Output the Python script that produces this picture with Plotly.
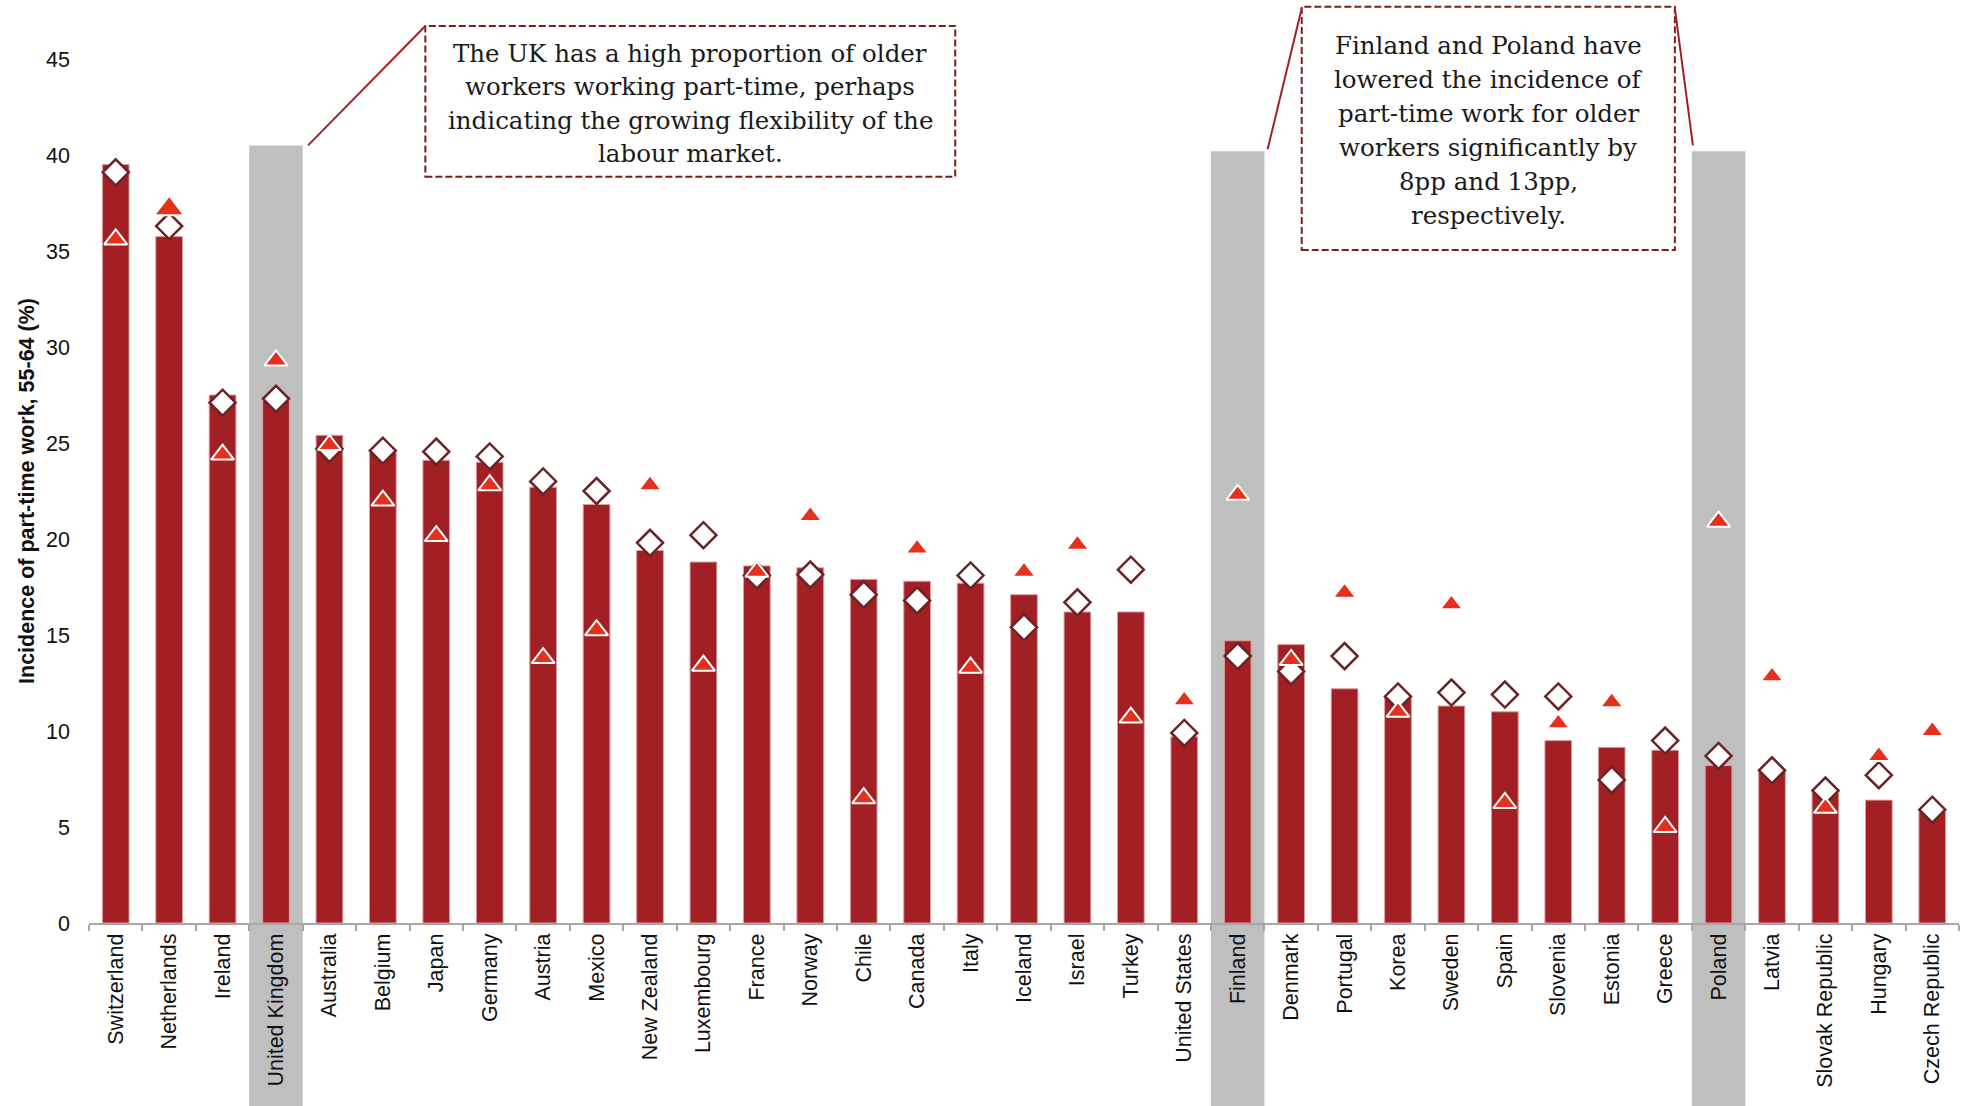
import plotly.graph_objects as go

# ---------------- data ----------------
countries = ["Switzerland", "Netherlands", "Ireland", "United Kingdom", "Australia",
             "Belgium", "Japan", "Germany", "Austria", "Mexico", "New Zealand",
             "Luxembourg", "France", "Norway", "Chile", "Canada", "Italy", "Iceland",
             "Israel", "Turkey", "United States", "Finland", "Denmark", "Portugal",
             "Korea", "Sweden", "Spain", "Slovenia", "Estonia", "Greece", "Poland",
             "Latvia", "Slovak Republic", "Hungary", "Czech Republic"]

bar_values = [39.5, 35.75, 27.5, 27.2, 25.4, 24.5, 24.1, 24.0, 22.7, 21.8, 19.4,
              18.8, 18.6, 18.5, 17.9, 17.8, 17.7, 17.1, 16.2, 16.2, 9.7, 14.7, 14.5,
              12.2, 11.8, 11.3, 11.0, 9.5, 9.15, 9.0, 8.2, 7.95, 6.9, 6.4, 5.8]

diamond_values = [39.1, 36.3, 27.1, 27.3, 24.7, 24.6, 24.55, 24.3, 23.0, 22.5, 19.8,
                  20.2, 18.1, 18.15, 17.1, 16.8, 18.1, 15.4, 16.7, 18.4, 9.9, 13.9,
                  13.1, 13.9, 11.8, 12.0, 11.9, 11.8, 7.45, 9.5, 8.7, 7.95, 6.9, 7.7, 5.9]

triangle_values = [35.6, 37.2, 24.4, 29.3, 24.9, 22.0, 20.15, 22.8, 13.8, 15.25, 22.8,
                   13.4, 18.3, 21.2, 6.5, 19.5, 13.3, 18.3, 19.7, 10.7, 11.6, 22.3,
                   13.7, 17.2, 11.0, 16.6, 6.25, 10.4, 11.5, 5.0, 20.9, 12.85, 6.0, 8.7, 10.0]

highlight_countries = ["United Kingdom", "Finland", "Poland"]
highlight_tops = [40.5, 40.2, 40.2]

y_ticks = [0, 5, 10, 15, 20, 25, 30, 35, 40, 45]
y_range = [0, 45]

note_uk = ["The UK has a high proportion of older",
           "workers working part-time, perhaps",
           "indicating the growing flexibility of the",
           "labour market."]
note_fp = ["Finland and Poland have",
           "lowered the incidence of",
           "part-time work for older",
           "workers significantly by",
           "8pp and 13pp,",
           "respectively."]

# ---------------- layout constants ----------------
W, H = 1966, 1106
ML, MR, MT, MB = 88.6, 7, 59, 183.2
N = len(countries)
PLOT_W = W - ML - MR
PLOT_H = H - MT - MB
CAT_W = PLOT_W / N


def px_to_idx(px):
    """pixel x -> category index units"""
    return (px - ML) / CAT_W - 0.5


def px_to_paper_y(py):
    """pixel y -> paper y"""
    return (H - MB - py) / PLOT_H


def val_to_paper_y(v):
    return (v - y_range[0]) / (y_range[1] - y_range[0])


BAR_RED = "#A21F23"
TRI_RED = "#E4301C"
DIA_LINE = "#6B2326"
GREY = "#BFBFBF"
BOX_LINE = "#7B1E1E"
CONN = "#A32024"
SANS = "Liberation Sans, Arial, sans-serif"
SERIF = "DejaVu Serif, Georgia, serif"

fig = go.Figure()

fig.add_trace(go.Bar(
    x=countries, y=bar_values,
    marker=dict(color=BAR_RED, line=dict(color="#D9A0A2", width=1)),
    hoverinfo="skip", showlegend=False,
))

fig.add_trace(go.Scatter(
    x=countries, y=diamond_values, mode="markers",
    marker=dict(symbol="diamond", size=20, color="white", opacity=1,
                line=dict(color=DIA_LINE, width=2.5)),
    hoverinfo="skip", showlegend=False,
))

tri_sizes = [26 if c == "Netherlands" else 20 for c in countries]
fig.add_trace(go.Scatter(
    x=countries, y=triangle_values, mode="markers",
    marker=dict(symbol="triangle-up", size=tri_sizes, color=TRI_RED, opacity=1,
                line=dict(color="white", width=2)),
    hoverinfo="skip", showlegend=False,
))

shapes = []
# grey highlight columns (extend below the axis through the labels)
for c, top in zip(highlight_countries, highlight_tops):
    i = countries.index(c)
    shapes.append(dict(type="rect", xref="x", yref="paper",
                       x0=i - 0.5, x1=i + 0.5, y0=-0.3, y1=val_to_paper_y(top),
                       fillcolor=GREY, line=dict(width=0), layer="below"))

# annotation boxes (pixel positions)
box_uk = dict(l=425, r=955, t=26, b=176.7)
box_fp = dict(l=1301.6, r=1674.8, t=6.7, b=250)
for b in (box_uk, box_fp):
    shapes.append(dict(type="rect", xref="x", yref="paper",
                       x0=px_to_idx(b["l"]), x1=px_to_idx(b["r"]),
                       y0=px_to_paper_y(b["b"]), y1=px_to_paper_y(b["t"]),
                       fillcolor="white",
                       line=dict(color=BOX_LINE, width=2, dash="7px,3px"),
                       layer="above"))

# connector lines
iuk = countries.index("United Kingdom")
ifi = countries.index("Finland")
ipo = countries.index("Poland")
connectors = [
    (px_to_idx(box_uk["l"]), px_to_paper_y(box_uk["t"]),
     iuk + 0.6, val_to_paper_y(highlight_tops[0])),
    (px_to_idx(box_fp["l"]), px_to_paper_y(8.3),
     ifi + 0.56, val_to_paper_y(highlight_tops[1] + 0.1)),
    (px_to_idx(box_fp["r"]), px_to_paper_y(8.3),
     ipo - 0.48, val_to_paper_y(highlight_tops[2] + 0.3)),
]
for x0, y0, x1, y1 in connectors:
    shapes.append(dict(type="line", xref="x", yref="paper",
                       x0=x0, y0=y0, x1=x1, y1=y1,
                       line=dict(color=CONN, width=2), layer="above"))

annotations = []
uk_cx = px_to_idx((box_uk["l"] + box_uk["r"]) / 2)
for k, line in enumerate(note_uk):
    annotations.append(dict(xref="x", yref="paper", x=uk_cx,
                            y=px_to_paper_y(53.3 + k * 33.4),
                            text=line, showarrow=False, xanchor="center",
                            yanchor="middle",
                            font=dict(family=SERIF, size=24.5, color="#1A1A1A")))
fp_cx = px_to_idx((box_fp["l"] + box_fp["r"]) / 2)
for k, line in enumerate(note_fp):
    annotations.append(dict(xref="x", yref="paper", x=fp_cx,
                            y=px_to_paper_y(45.7 + k * 34.0),
                            text=line, showarrow=False, xanchor="center",
                            yanchor="middle",
                            font=dict(family=SERIF, size=24.5, color="#1A1A1A")))

fig.update_layout(
    width=W, height=H,
    margin=dict(l=ML, r=MR, t=MT, b=MB, pad=0),
    paper_bgcolor="white", plot_bgcolor="rgba(0,0,0,0)",
    bargap=0.5, barmode="overlay",
    shapes=shapes, annotations=annotations,
    showlegend=False,
    xaxis=dict(type="category", range=[-0.5, N - 0.5], tickangle=-90,
               tickson="boundaries", ticks="outside", ticklen=6,
               tickcolor="#A6A6A6", tickwidth=2,
               showline=True, linecolor="#A6A6A6", linewidth=2,
               showgrid=False, zeroline=False,
               tickfont=dict(family=SANS, size=21.5, color="#111111"),
               automargin=False),
    yaxis=dict(range=y_range, tickvals=y_ticks, ticktext=[str(v) for v in y_ticks],
               showgrid=False, zeroline=False, showline=False, ticks="",
               ticklabelstandoff=18,
               tickfont=dict(family=SANS, size=21.5, color="#111111"),
               title=dict(text="<b>Incidence of part-time work, 55-64 (%)</b>",
                          font=dict(family=SANS, size=21.5, color="#111111"),
                          standoff=5),
               automargin=False),
)

# remove the browser's default 8px page margin so the figure fills the window
fig.write_html("out.html",
               config={"displayModeBar": False},
               post_script="document.body.style.margin='0';"
                           "document.body.style.padding='0';")
